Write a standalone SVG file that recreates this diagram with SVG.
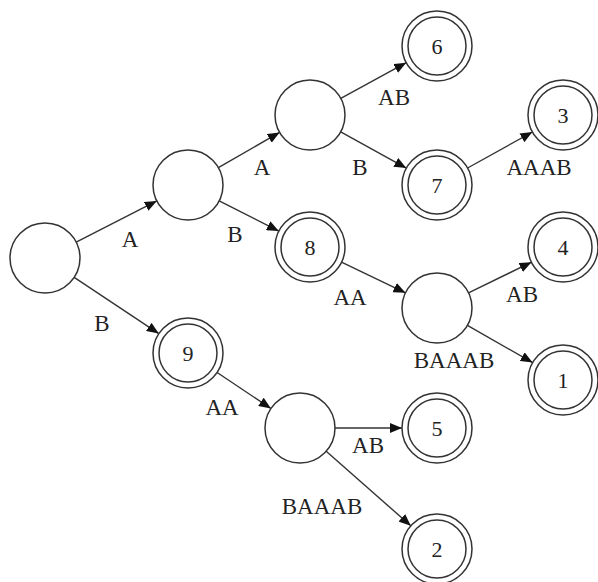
<svg xmlns="http://www.w3.org/2000/svg" width="598" height="582" viewBox="0 0 598 582">
<style>
.n{fill:#fff;stroke:#333;stroke-width:1.5}
.e{fill:none;stroke:#333;stroke-width:1.4;marker-end:url(#ah)}
text{font-family:"Liberation Serif","Times New Roman",serif;font-size:23px;fill:#222;text-anchor:middle}
.d{font-size:22px}
</style>
<defs>
<marker id="ah" viewBox="0 0 12 10" refX="12" refY="5" markerWidth="12" markerHeight="10" markerUnits="userSpaceOnUse" orient="auto">
<path d="M0,0 L12,5 L0,10 Z" fill="#111"/>
</marker>
</defs>
<rect width="598" height="582" fill="#fff"/>
<g id="connectors">
<line class="e" x1="76.2" y1="242.1" x2="156.8" y2="200.9"/>
<line class="e" x1="74.2" y1="277.4" x2="158.8" y2="333.6"/>
<line class="e" x1="218.4" y1="167.6" x2="279.6" y2="132.4"/>
<line class="e" x1="219.2" y1="200.9" x2="278.8" y2="231.1"/>
<line class="e" x1="340.8" y1="98.3" x2="406.2" y2="62.7"/>
<line class="e" x1="340.7" y1="131.9" x2="406.3" y2="168.1"/>
<line class="e" x1="467.6" y1="168.0" x2="532.4" y2="132.0"/>
<line class="e" x1="341.5" y1="262.2" x2="405.5" y2="292.8"/>
<line class="e" x1="468.5" y1="292.8" x2="531.5" y2="262.2"/>
<line class="e" x1="467.4" y1="325.4" x2="532.6" y2="362.6"/>
<line class="e" x1="217.1" y1="372.5" x2="270.9" y2="408.5"/>
<line class="e" x1="335" y1="428" x2="402" y2="428"/>
<line class="e" x1="326.2" y1="451.2" x2="410.8" y2="525.8"/>
<text x="130" y="247">A</text>
<text x="102" y="331">B</text>
<text x="235" y="242">B</text>
<text x="262" y="175">A</text>
<text x="394" y="105">AB</text>
<text x="360" y="175">B</text>
<text x="539" y="175">AAAB</text>
<text x="350" y="305">AA</text>
<text x="522" y="302">AB</text>
<text x="454" y="368">BAAAB</text>
<text x="222" y="415">AA</text>
<text x="368" y="453">AB</text>
<text x="322" y="514">BAAAB</text>
</g>
<g id="root"><circle class="n" cx="45" cy="258" r="35"/></g>
<g id="nA"><circle class="n" cx="188" cy="185" r="35"/></g>
<g id="nAA"><circle class="n" cx="310" cy="115" r="35"/></g>
<g id="n6"><circle class="n" cx="437" cy="46" r="35"/><circle class="n" cx="437" cy="46" r="29"/><text class="d" x="437" y="54">6</text></g>
<g id="n7"><circle class="n" cx="437" cy="185" r="35"/><circle class="n" cx="437" cy="185" r="29"/><text class="d" x="437" y="193">7</text></g>
<g id="n3"><circle class="n" cx="563" cy="115" r="35"/><circle class="n" cx="563" cy="115" r="29"/><text class="d" x="563" y="123">3</text></g>
<g id="n8"><circle class="n" cx="310" cy="247" r="35"/><circle class="n" cx="310" cy="247" r="29"/><text class="d" x="310" y="255">8</text></g>
<g id="n9"><circle class="n" cx="188" cy="353" r="35"/><circle class="n" cx="188" cy="353" r="29"/><text class="d" x="188" y="361">9</text></g>
<g id="nAB"><circle class="n" cx="437" cy="308" r="35"/></g>
<g id="n4"><circle class="n" cx="563" cy="247" r="35"/><circle class="n" cx="563" cy="247" r="29"/><text class="d" x="563" y="255">4</text></g>
<g id="n1"><circle class="n" cx="563" cy="380" r="35"/><circle class="n" cx="563" cy="380" r="29"/><text class="d" x="563" y="388">1</text></g>
<g id="nBAA"><circle class="n" cx="300" cy="428" r="35"/></g>
<g id="n5"><circle class="n" cx="437" cy="428" r="35"/><circle class="n" cx="437" cy="428" r="29"/><text class="d" x="437" y="436">5</text></g>
<g id="n2"><circle class="n" cx="437" cy="549" r="35"/><circle class="n" cx="437" cy="549" r="29"/><text class="d" x="437" y="557">2</text></g>
</svg>
